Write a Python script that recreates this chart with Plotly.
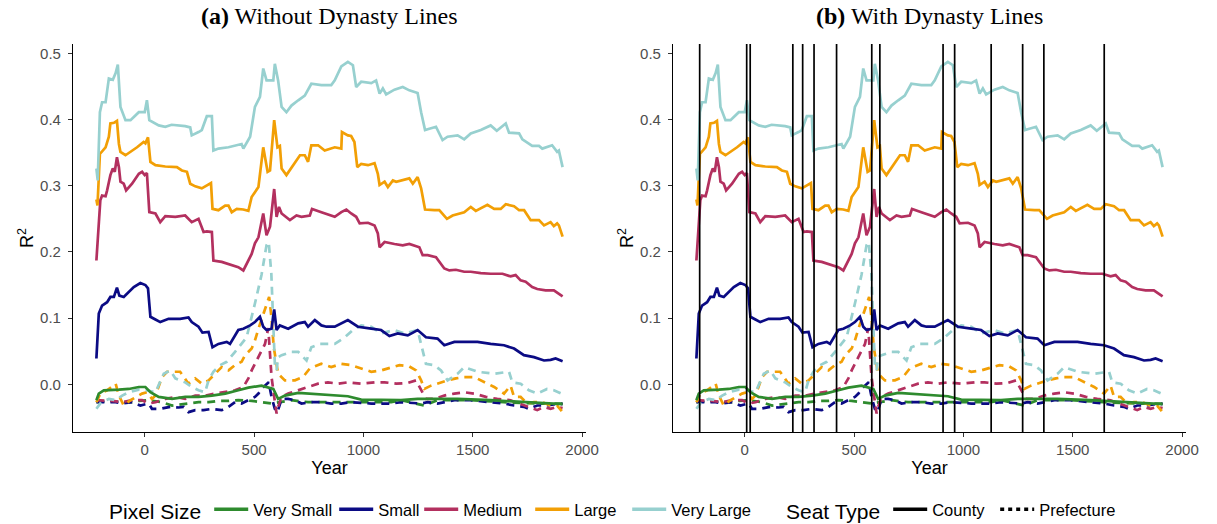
import plotly.graph_objects as go
from plotly.subplots import make_subplots

# ---------------- data ----------------
size_names = ["Very Small", "Small", "Medium", "Large", "Very Large"]
size_colors = ["#2E8B2E", "#0B0B84", "#B3305F", "#F29F05", "#97D0CF"]
seat_names = ["County", "Prefecture"]

dynasty_years = [-206, 9, 25, 220, 265, 317, 420, 581, 618, 907, 960, 1127, 1271, 1368, 1644]

vl_county_year = [-221, -215, -205, -195, -179, -164, -146, -133, -123, -118, -111, -88, -65, -27, 0, 10, 21, 64, 94, 123, 185, 208, 215, 246, 261, 284, 307, 314, 337, 383, 443, 451, 482, 504, 527, 542, 557, 588, 595, 610, 626, 648, 671, 702, 732, 762, 808, 853, 869, 899, 929, 952, 967, 990, 1036, 1058, 1074, 1089, 1104, 1142, 1180, 1210, 1248, 1264, 1282, 1332, 1362, 1385, 1431, 1461, 1491, 1537, 1582, 1610, 1651, 1666, 1712, 1727, 1772, 1803, 1818, 1863, 1886, 1894, 1911]
vl_county_r2 = [0.326, 0.308, 0.411, 0.426, 0.426, 0.462, 0.46, 0.47, 0.483, 0.455, 0.419, 0.399, 0.399, 0.411, 0.411, 0.429, 0.399, 0.391, 0.389, 0.392, 0.39, 0.388, 0.376, 0.381, 0.384, 0.405, 0.405, 0.353, 0.356, 0.358, 0.363, 0.356, 0.374, 0.419, 0.434, 0.477, 0.459, 0.459, 0.484, 0.459, 0.419, 0.411, 0.421, 0.429, 0.436, 0.454, 0.452, 0.452, 0.459, 0.48, 0.487, 0.482, 0.449, 0.457, 0.455, 0.459, 0.439, 0.447, 0.438, 0.445, 0.449, 0.444, 0.44, 0.411, 0.384, 0.389, 0.369, 0.374, 0.376, 0.37, 0.379, 0.384, 0.391, 0.383, 0.394, 0.38, 0.379, 0.37, 0.36, 0.36, 0.356, 0.361, 0.351, 0.353, 0.328]

l_county_year = [-221, -216, -205, -179, -164, -157, -141, -127, -118, -111, -88, -65, -35, -5, 3, 15, 26, 49, 94, 147, 170, 193, 208, 231, 261, 303, 310, 337, 368, 383, 398, 421, 451, 474, 489, 520, 542, 562, 573, 592, 607, 618, 626, 648, 679, 710, 732, 747, 762, 793, 823, 869, 899, 902, 929, 944, 959, 972, 990, 1021, 1051, 1066, 1074, 1097, 1112, 1135, 1150, 1188, 1210, 1226, 1248, 1264, 1282, 1325, 1347, 1382, 1408, 1461, 1491, 1514, 1567, 1598, 1628, 1651, 1689, 1712, 1735, 1765, 1803, 1826, 1856, 1871, 1886, 1894, 1911]
l_county_r2 = [0.279, 0.27, 0.348, 0.358, 0.374, 0.394, 0.395, 0.398, 0.363, 0.351, 0.346, 0.351, 0.358, 0.366, 0.364, 0.373, 0.336, 0.331, 0.329, 0.328, 0.323, 0.321, 0.303, 0.299, 0.296, 0.304, 0.265, 0.263, 0.27, 0.27, 0.26, 0.265, 0.264, 0.262, 0.283, 0.298, 0.358, 0.321, 0.323, 0.399, 0.358, 0.36, 0.326, 0.316, 0.331, 0.346, 0.346, 0.336, 0.361, 0.361, 0.353, 0.358, 0.356, 0.381, 0.376, 0.375, 0.366, 0.328, 0.333, 0.331, 0.334, 0.318, 0.301, 0.306, 0.298, 0.308, 0.306, 0.309, 0.311, 0.303, 0.313, 0.296, 0.264, 0.263, 0.263, 0.25, 0.255, 0.26, 0.268, 0.262, 0.271, 0.265, 0.265, 0.272, 0.269, 0.263, 0.263, 0.248, 0.248, 0.24, 0.245, 0.239, 0.243, 0.24, 0.223]

m_county_year = [-221, -203, -195, -179, -172, -157, -146, -137, -127, -118, -111, -96, -85, -58, -27, -12, 0, 10, 21, 49, 71, 94, 140, 185, 215, 246, 269, 284, 307, 314, 352, 398, 428, 451, 466, 489, 504, 520, 542, 557, 573, 592, 603, 614, 626, 664, 694, 717, 755, 765, 808, 846, 869, 899, 922, 944, 967, 983, 1021, 1051, 1066, 1074, 1097, 1142, 1180, 1210, 1256, 1271, 1294, 1332, 1370, 1393, 1423, 1461, 1491, 1537, 1582, 1636, 1673, 1696, 1719, 1742, 1772, 1795, 1833, 1871, 1886, 1911]
m_county_r2 = [0.187, 0.278, 0.285, 0.284, 0.293, 0.316, 0.326, 0.321, 0.343, 0.328, 0.306, 0.303, 0.293, 0.303, 0.318, 0.321, 0.316, 0.319, 0.26, 0.258, 0.245, 0.254, 0.253, 0.255, 0.245, 0.25, 0.23, 0.231, 0.23, 0.187, 0.185, 0.18, 0.177, 0.172, 0.182, 0.197, 0.213, 0.222, 0.258, 0.225, 0.238, 0.295, 0.253, 0.268, 0.258, 0.248, 0.255, 0.253, 0.255, 0.265, 0.26, 0.255, 0.253, 0.26, 0.264, 0.258, 0.253, 0.243, 0.244, 0.24, 0.228, 0.207, 0.215, 0.212, 0.21, 0.212, 0.207, 0.195, 0.195, 0.192, 0.175, 0.172, 0.173, 0.17, 0.17, 0.168, 0.167, 0.167, 0.163, 0.165, 0.157, 0.155, 0.147, 0.144, 0.142, 0.142, 0.139, 0.133]

s_county_year = [-221, -210, -195, -172, -157, -141, -127, -116, -96, -73, -50, -20, 3, 15, 26, 49, 71, 109, 162, 200, 215, 246, 264, 292, 310, 337, 375, 390, 428, 451, 482, 504, 527, 542, 557, 580, 592, 603, 618, 656, 702, 732, 747, 778, 808, 831, 869, 929, 975, 1036, 1081, 1119, 1157, 1203, 1248, 1286, 1339, 1370, 1416, 1461, 1522, 1582, 1643, 1689, 1734, 1780, 1826, 1856, 1879, 1911]
s_county_r2 = [0.039, 0.107, 0.119, 0.124, 0.132, 0.132, 0.146, 0.134, 0.132, 0.139, 0.147, 0.153, 0.15, 0.145, 0.102, 0.098, 0.094, 0.099, 0.099, 0.101, 0.094, 0.087, 0.078, 0.079, 0.056, 0.061, 0.064, 0.061, 0.082, 0.084, 0.089, 0.094, 0.102, 0.087, 0.082, 0.084, 0.113, 0.082, 0.089, 0.084, 0.092, 0.094, 0.087, 0.097, 0.089, 0.087, 0.087, 0.097, 0.087, 0.084, 0.082, 0.073, 0.077, 0.074, 0.082, 0.071, 0.069, 0.059, 0.064, 0.064, 0.064, 0.061, 0.059, 0.054, 0.044, 0.041, 0.036, 0.037, 0.039, 0.035]

vs_county_year = [-221, -210, -187, -150, -118, -73, -27, 3, 26, 64, 125, 185, 246, 307, 368, 428, 474, 534, 557, 588, 610, 641, 702, 778, 869, 929, 990, 1081, 1172, 1248, 1431, 1582, 1734, 1886, 1911]
vs_county_r2 = [-0.024, -0.014, -0.009, -0.009, -0.008, -0.007, -0.004, -0.004, -0.012, -0.019, -0.022, -0.019, -0.019, -0.017, -0.014, -0.009, -0.005, -0.002, -0.004, -0.007, -0.022, -0.017, -0.013, -0.015, -0.017, -0.018, -0.023, -0.023, -0.024, -0.022, -0.022, -0.024, -0.027, -0.029, -0.03]

vl_pref_year = [-221, -199, -164, -133, -103, -73, -27, 10, 49, 71, 87, 117, 140, 185, 215, 246, 276, 292, 314, 345, 375, 413, 443, 466, 504, 534, 557, 567, 579, 588, 595, 603, 610, 626, 671, 702, 740, 762, 800, 869, 915, 952, 990, 1036, 1081, 1142, 1188, 1248, 1271, 1286, 1324, 1355, 1385, 1431, 1461, 1522, 1598, 1666, 1681, 1719, 1757, 1795, 1840, 1871, 1911]
vl_pref_r2 = [-0.037, -0.027, -0.022, -0.024, -0.017, -0.012, -0.008, -0.009, -0.012, 0.003, 0.016, 0.021, 0.009, 0.003, -0.004, -0.009, -0.012, 0.006, 0.019, 0.029, 0.034, 0.049, 0.061, 0.071, 0.122, 0.165, 0.21, 0.215, 0.167, 0.082, 0.031, 0.021, 0.041, 0.044, 0.049, 0.049, 0.036, 0.056, 0.061, 0.061, 0.071, 0.082, 0.089, 0.087, 0.077, 0.082, 0.077, 0.082, 0.051, 0.031, 0.029, 0.021, 0.006, 0.016, 0.026, 0.019, 0.016, 0.019, 0.003, 0.001, -0.009, -0.014, -0.007, -0.009, -0.015]

l_pref_year = [-221, -203, -172, -133, -118, -96, -65, -35, -12, 10, 33, 49, 79, 102, 132, 162, 200, 231, 261, 292, 322, 352, 383, 413, 443, 459, 489, 504, 520, 550, 569, 580, 590, 610, 641, 687, 724, 755, 808, 853, 899, 944, 990, 1036, 1081, 1134, 1165, 1210, 1241, 1264, 1279, 1309, 1355, 1385, 1423, 1461, 1507, 1552, 1598, 1643, 1673, 1689, 1719, 1750, 1780, 1818, 1856, 1886, 1911]
l_pref_r2 = [-0.027, -0.014, -0.009, 0.001, -0.017, -0.032, -0.024, -0.019, -0.014, -0.012, -0.022, -0.017, 0.011, 0.019, 0.019, 0.019, 0.001, 0.009, 0.001, 0.006, 0.016, 0.026, 0.021, 0.029, 0.034, 0.044, 0.054, 0.066, 0.084, 0.112, 0.132, 0.1, 0.056, 0.016, 0.006, 0.006, 0.011, 0.024, 0.031, 0.026, 0.031, 0.029, 0.024, 0.019, 0.021, 0.026, 0.029, 0.027, 0.021, 0.006, -0.007, -0.002, 0.003, 0.006, 0.009, 0.011, 0.011, 0.003, -0.004, -0.014, -0.002, -0.019, -0.019, -0.029, -0.027, -0.027, -0.032, -0.032, -0.042]

m_pref_year = [-221, -179, -150, -103, -58, -12, 18, 49, 94, 140, 185, 231, 276, 322, 368, 413, 451, 474, 489, 520, 550, 565, 573, 580, 592, 603, 610, 626, 656, 702, 747, 793, 838, 884, 929, 990, 1051, 1097, 1150, 1203, 1241, 1264, 1286, 1324, 1370, 1416, 1461, 1507, 1560, 1612, 1673, 1712, 1750, 1795, 1826, 1856, 1886, 1911]
m_pref_r2 = [-0.024, -0.024, -0.025, -0.027, -0.024, -0.024, -0.029, -0.027, -0.022, -0.019, -0.022, -0.017, -0.017, -0.014, -0.012, -0.009, -0.004, 0.009, 0.021, 0.041, 0.061, 0.085, 0.051, 0.011, -0.019, -0.044, -0.034, -0.019, -0.014, -0.009, -0.004, 0.001, 0.003, 0.001, 0.003, 0.001, 0.003, 0.003, 0.001, 0.002, 0.006, -0.009, -0.022, -0.022, -0.017, -0.014, -0.012, -0.014, -0.019, -0.022, -0.024, -0.029, -0.034, -0.039, -0.034, -0.037, -0.034, -0.036]

s_pref_year = [-221, -179, -133, -103, -58, -20, 18, 33, 71, 117, 155, 178, 200, 231, 269, 307, 352, 383, 413, 443, 474, 504, 520, 534, 567, 580, 595, 607, 626, 656, 687, 717, 762, 808, 853, 899, 944, 1036, 1127, 1172, 1264, 1294, 1339, 1416, 1491, 1567, 1643, 1689, 1734, 1757, 1795, 1840, 1894, 1911]
s_pref_r2 = [-0.027, -0.027, -0.027, -0.029, -0.027, -0.032, -0.029, -0.037, -0.037, -0.034, -0.035, -0.034, -0.042, -0.039, -0.039, -0.037, -0.039, -0.034, -0.027, -0.029, -0.024, -0.019, -0.014, -0.007, 0.003, -0.019, -0.037, -0.042, -0.022, -0.022, -0.024, -0.029, -0.027, -0.027, -0.029, -0.029, -0.027, -0.029, -0.029, -0.027, -0.029, -0.027, -0.029, -0.024, -0.024, -0.027, -0.029, -0.032, -0.034, -0.037, -0.032, -0.032, -0.029, -0.03]

vs_pref_year = [-221, -164, -103, -58, -27, 18, 79, 125, 200, 246, 292, 337, 383, 428, 489, 534, 580, 618, 671, 747, 823, 899, 975, 1051, 1127, 1172, 1279, 1339, 1491, 1643, 1795, 1911]
vs_pref_r2 = [-0.027, -0.025, -0.027, -0.027, -0.025, -0.024, -0.027, -0.032, -0.029, -0.027, -0.027, -0.025, -0.025, -0.024, -0.025, -0.027, -0.029, -0.027, -0.024, -0.027, -0.027, -0.026, -0.027, -0.027, -0.027, -0.024, -0.032, -0.024, -0.024, -0.027, -0.029, -0.029]

county_series = [
    (vs_county_year, vs_county_r2),
    (s_county_year, s_county_r2),
    (m_county_year, m_county_r2),
    (l_county_year, l_county_r2),
    (vl_county_year, vl_county_r2),
]
pref_series = [
    (vs_pref_year, vs_pref_r2),
    (s_pref_year, s_pref_r2),
    (m_pref_year, m_pref_r2),
    (l_pref_year, l_pref_r2),
    (vl_pref_year, vl_pref_r2),
]

panel_titles = ["<b>(a)</b> Without Dynasty Lines", "<b>(b)</b> With Dynasty Lines"]
x_ticks = [0, 500, 1000, 1500, 2000]
y_ticks = [0.0, 0.1, 0.2, 0.3, 0.4, 0.5]

# ---------------- figure ----------------
W, H = 1217, 524
ML, MR, MT, MB = 73, 31, 44, 92
plot_w = W - ML - MR
plot_h = H - MT - MB
gap_left = (586 - ML) / plot_w
gap_right = (673 - ML) / plot_w

fig = make_subplots(rows=1, cols=2, horizontal_spacing=gap_right - gap_left)
fig.update_xaxes(domain=[0, gap_left], row=1, col=1)
fig.update_xaxes(domain=[gap_right, 1], row=1, col=2)

DASH = "8px,6px"
LW = 2.7
SANS = "Liberation Sans, Arial, sans-serif"

for col in (1, 2):
    for (yrs, vals), color in zip(pref_series, size_colors):
        fig.add_trace(go.Scatter(x=yrs, y=vals, mode="lines",
                                 line=dict(color=color, width=LW, dash=DASH),
                                 showlegend=False, hoverinfo="skip"), row=1, col=col)
    for (yrs, vals), color in zip(county_series, size_colors):
        fig.add_trace(go.Scatter(x=yrs, y=vals, mode="lines",
                                 line=dict(color=color, width=LW),
                                 showlegend=False, hoverinfo="skip"), row=1, col=col)

# dynasty lines in panel (b)
for yr in dynasty_years:
    fig.add_shape(type="line", xref="x2", yref="y2 domain", x0=yr, x1=yr, y0=0, y1=1,
                  line=dict(color="black", width=1.7), layer="above")

# legend entries (widths tuned per entry)
size_legend_widths = [76, 36, 62, 48, 80]
for name, color, lw in zip(size_names, size_colors, size_legend_widths):
    fig.add_trace(go.Scatter(x=[None], y=[None], mode="lines", name=name,
                             line=dict(color=color, width=3.5), legend="legend", legendwidth=lw))
seat_legend_widths = [58, 80]
for name, dash, lw in zip(seat_names, ["solid", "4px,4px"], seat_legend_widths):
    fig.add_trace(go.Scatter(x=[None], y=[None], mode="lines", name=name,
                             line=dict(color="black", width=3.5, dash=dash), legend="legend2", legendwidth=lw))

axis_common = dict(showgrid=False, zeroline=False, showline=True, linecolor="black", linewidth=1.1,
                   ticks="outside", ticklen=4, tickwidth=1.1, tickcolor="#333333",
                   tickfont=dict(family=SANS, size=15, color="#4D4D4D"), mirror=False)
for col in (1, 2):
    fig.update_xaxes(range=[-328, 2018], tickvals=x_ticks, ticklabelstandoff=0,
                     title=dict(text="Year", font=dict(family=SANS, size=18, color="black"), standoff=2),
                     **axis_common, row=1, col=col)
    fig.update_yaxes(range=[-0.072, 0.514], tickvals=y_ticks, tickformat=".1f", ticklabelstandoff=4,
                     title=dict(text="R<sup>2</sup>", font=dict(family=SANS, size=18, color="black"), standoff=1),
                     **axis_common, row=1, col=col)

for i, t in enumerate(panel_titles):
    d = [0, gap_left] if i == 0 else [gap_right, 1]
    fig.add_annotation(text=t, xref="paper", yref="paper", x=(d[0] + d[1]) / 2, y=1 + (MT - 16) / plot_h,
                       showarrow=False, xanchor="center", yanchor="middle",
                       font=dict(family="Liberation Serif, Times New Roman, serif", size=24, color="black"))

leg_y = (H - MB - 511) / plot_h
fig.update_layout(
    width=W, height=H,
    margin=dict(l=ML, r=MR, t=MT, b=MB, autoexpand=False),
    plot_bgcolor="white", paper_bgcolor="white",
    font=dict(family=SANS, color="black"),
    legend=dict(orientation="h", x=(107 - ML) / plot_w, xanchor="left", y=leg_y, yanchor="middle",
                title=dict(text="Pixel Size", side="left", font=dict(size=21)),
                font=dict(size=16.5), itemwidth=34, traceorder="normal", bgcolor="rgba(0,0,0,0)"),
    legend2=dict(orientation="h", x=(784 - ML) / plot_w, xanchor="left", y=leg_y, yanchor="middle",
                 title=dict(text="Seat Type", side="left", font=dict(size=21)),
                 font=dict(size=16.5), itemwidth=34, traceorder="normal", bgcolor="rgba(0,0,0,0)"),
)

fig.write_html("out.html", config={"displayModeBar": False},
               post_script="document.body.style.margin='0px';document.body.style.overflow='hidden';")
